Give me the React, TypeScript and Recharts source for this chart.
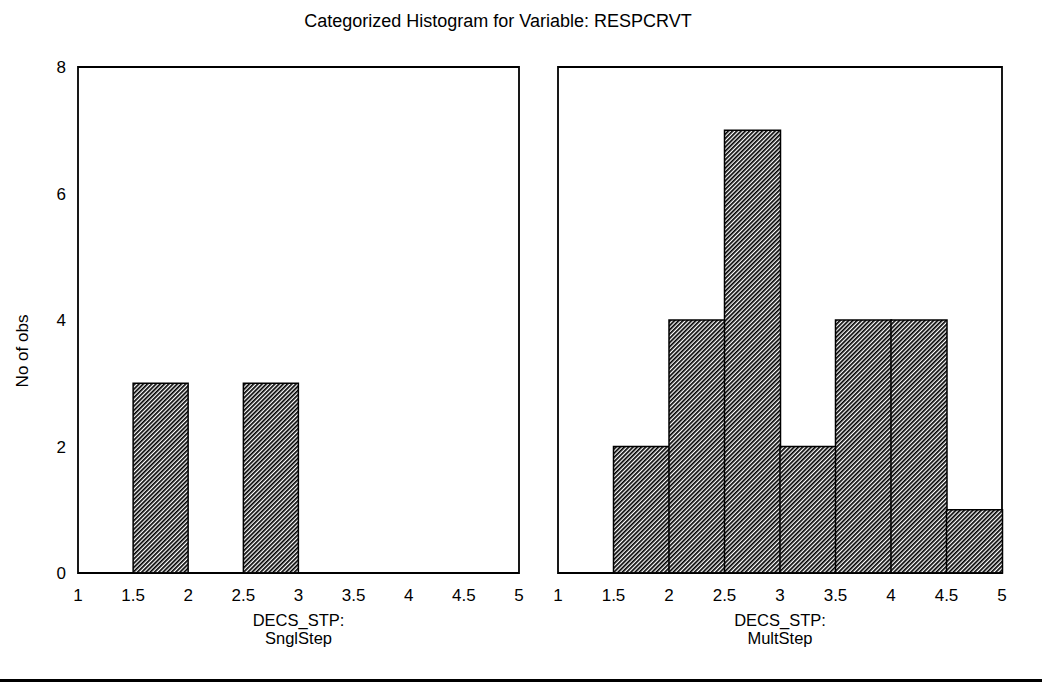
import React from 'react';
import { BarChart, Bar, XAxis, YAxis, ReferenceArea } from 'recharts';

const binCenters = [1.25, 1.75, 2.25, 2.75, 3.25, 3.75, 4.25, 4.75];
const snglStepCounts = [0, 3, 0, 3, 0, 0, 0, 0];
const multStepCounts = [0, 2, 4, 7, 2, 4, 4, 1];
const xTicks = [1, 1.5, 2, 2.5, 3, 3.5, 4, 4.5, 5];
const yTicks = [0, 2, 4, 6, 8];
const titleText = 'Categorized Histogram for Variable: RESPCRVT';
const yLabel = 'No of obs';
const groupVar = 'DECS_STP:';
const leftGroup = 'SnglStep';
const rightGroup = 'MultStep';

const FONT = '"Liberation Sans", Arial, Helvetica, sans-serif';

const snglData = binCenters.map((x, i) => ({ x, n: snglStepCounts[i] }));
const multData = binCenters.map((x, i) => ({ x, n: multStepCounts[i] }));

const GroupLabel = (name: string) => (props: any) => {
  const vb = props.viewBox || {};
  const cx = vb.x + vb.width / 2;
  const top = vb.y;
  return (
    <g>
      <text x={cx} y={top + 53} textAnchor="middle" fontSize={16.5} fontFamily={FONT} fill="#000">
        {groupVar}
      </text>
      <text x={cx} y={top + 71} textAnchor="middle" fontSize={16.5} fontFamily={FONT} fill="#000">
        {name}
      </text>
    </g>
  );
};

const YLabelContent = (props: any) => {
  const x = 28;
  const y = 351;
  return (
    <text
      x={x}
      y={y}
      textAnchor="middle"
      fontSize={17}
      fontFamily={FONT}
      fill="#000"
      transform={`rotate(-90 ${x} ${y})`}
    >
      {yLabel}
    </text>
  );
};

function Panel({ data, left, width, showY, group, marginLeft, marginRight }: any) {
  return (
    <div style={{ position: 'absolute', left, top: 0 }}>
      <BarChart
        width={width}
        height={683}
        data={data}
        margin={{ top: 67, right: marginRight, bottom: 0, left: marginLeft }}
        barCategoryGap={0}
        barGap={0}
      >
        <XAxis
          dataKey="x"
          type="number"
          domain={[1, 5]}
          ticks={xTicks}
          interval={0}
          height={110}
          axisLine={{ stroke: '#000', strokeWidth: 1.5 }}
          tickLine={false}
          tickSize={6}
          tickMargin={10}
          tick={{ fill: '#000', fontSize: 17, fontFamily: FONT }}
          label={{ content: GroupLabel(group) } as any}
        />
        <YAxis
          type="number"
          domain={[0, 8]}
          ticks={yTicks}
          hide={!showY}
          width={showY ? 60 : 0}
          axisLine={false}
          tickLine={false}
          tickSize={6}
          tickMargin={6}
          tick={{ fill: '#000', fontSize: 17, fontFamily: FONT }}
          label={showY ? ({ content: YLabelContent } as any) : undefined}
        />
        <ReferenceArea
          x1={1}
          x2={5}
          y1={0}
          y2={8}
          fill="none"
          stroke="#000"
          strokeWidth={1.8}
          ifOverflow="visible"
        />
        <Bar
          dataKey="n"
          fill="url(#hatch)"
          stroke="#000"
          strokeWidth={1.5}
          isAnimationActive={false}
        />
      </BarChart>
    </div>
  );
}

export default function App() {
  return (
    <div
      style={{
        position: 'absolute',
        left: 0,
        top: 0,
        width: 1042,
        height: 683,
        background: '#fff',
        fontFamily: FONT,
      }}
    >
      <svg width={0} height={0} style={{ position: 'absolute' }}>
        <defs>
          <pattern
            id="hatch"
            width={3}
            height={3}
            patternUnits="userSpaceOnUse"
            patternTransform="rotate(45)"
          >
            <rect width={3} height={3} fill="#fff" />
            <rect x={0} y={0} width={1.7} height={3} fill="#000" />
          </pattern>
        </defs>
      </svg>
      <div
        style={{
          position: 'absolute',
          top: 10,
          left: 0,
          width: 996,
          textAlign: 'center',
          fontSize: 18,
          fontFamily: FONT,
          color: '#000',
          lineHeight: '22px',
        }}
      >
        {titleText}
      </div>
      <Panel data={snglData} left={0} width={540} showY group={leftGroup} marginLeft={18} marginRight={21} />
      <Panel data={multData} left={540} width={502} showY={false} group={rightGroup} marginLeft={18} marginRight={40} />
      <div
        style={{
          position: 'absolute',
          left: 0,
          top: 679,
          width: 1042,
          height: 3,
          background: '#000',
        }}
      />
    </div>
  );
}
